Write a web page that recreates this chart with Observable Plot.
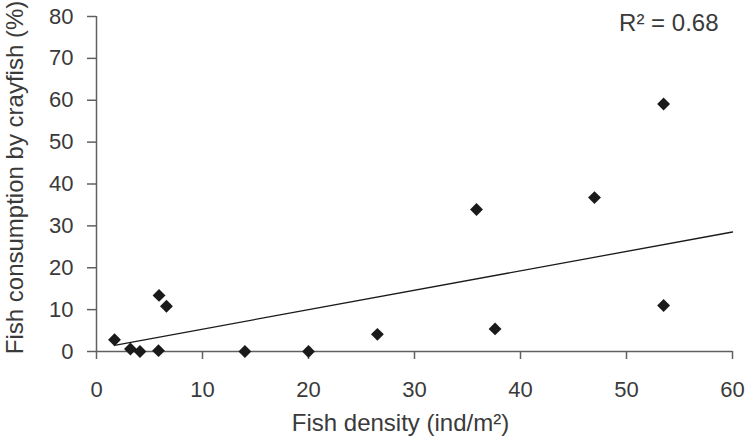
<!DOCTYPE html>
<html>
<head>
<meta charset="utf-8">
<script src="https://cdn.jsdelivr.net/npm/d3@7"></script>
<script src="https://cdn.jsdelivr.net/npm/@observablehq/plot@0.6"></script>
<style>
  html, body { margin: 0; padding: 0; background: #fff; }
  #chart svg { display: block; font-family: "Liberation Sans", Arial, sans-serif; }
</style>
</head>
<body>
<div id="chart"></div>
<script>
// Fish density (ind/m²) and fish consumption by crayfish (%)
const fishDensity = [1.7, 3.2, 4.1, 5.85, 5.9, 6.6, 14, 20, 26.5, 35.85, 37.6, 46.98, 53.5, 53.5];
const consumption = [2.8, 0.6, 0.0, 0.2, 13.4, 10.8, 0.0, 0.0, 4.1, 33.9, 5.4, 36.75, 11.0, 59.1];

// Linear trend line
const trendIntercept = 0.7;
const trendSlope = 0.464;
const trendRange = [1.7, 60];
const rSquaredLabel = "R\u00b2 = 0.68";

const xTicks = [0, 10, 20, 30, 40, 50, 60];
const yTicks = [0, 10, 20, 30, 40, 50, 60, 70, 80];

const points = fishDensity.map((d, i) => ({density: d, consumption: consumption[i]}));
const trend = trendRange.map(x => ({density: x, consumption: trendIntercept + trendSlope * x}));

const axisColor = "#606060";
const textColor = "#3a3a3a";

const chart = Plot.plot({
  width: 748,
  height: 447,
  marginLeft: 96,
  marginRight: 16,
  marginTop: 16,
  marginBottom: 96,
  style: {fontSize: "22px", color: textColor, fontFamily: "Liberation Sans, Arial, sans-serif"},
  x: {domain: [0, 60]},
  y: {domain: [0, 80]},
  marks: [
    Plot.axisX(xTicks, {tickSize: 8, tickPadding: 22, stroke: axisColor, strokeWidth: 1.5, fill: textColor, label: null}),
    Plot.axisY(yTicks, {tickSize: 9, tickPadding: 14, stroke: axisColor, strokeWidth: 1.5, fill: textColor, label: null}),
    Plot.ruleX([0], {stroke: axisColor, strokeWidth: 1.5}),
    Plot.ruleY([0], {stroke: axisColor, strokeWidth: 1.5}),
    Plot.line(trend, {x: "density", y: "consumption", stroke: "#1a1a1a", strokeWidth: 1.3}),
    Plot.dot(points, {x: "density", y: "consumption", symbol: "diamond2", r: 5.8, fill: "#1a1a1a", stroke: "none"}),
    Plot.text([rSquaredLabel], {frameAnchor: "top-right", text: d => d, textAnchor: "end", lineAnchor: "top", dx: -14, dy: -3, fontSize: 24, fill: textColor}),
    Plot.text(["Fish density (ind/m\u00b2)"], {frameAnchor: "bottom", text: d => d, dx: -14, dy: 79, fontSize: 24, fill: textColor}),
    Plot.text(["Fish consumption by crayfish (%)"], {frameAnchor: "left", text: d => d, textAnchor: "middle", rotate: -90, dx: -81.6, dy: -6.5, fontSize: 24, fill: textColor})
  ]
});

document.getElementById("chart").appendChild(chart);
</script>
</body>
</html>
